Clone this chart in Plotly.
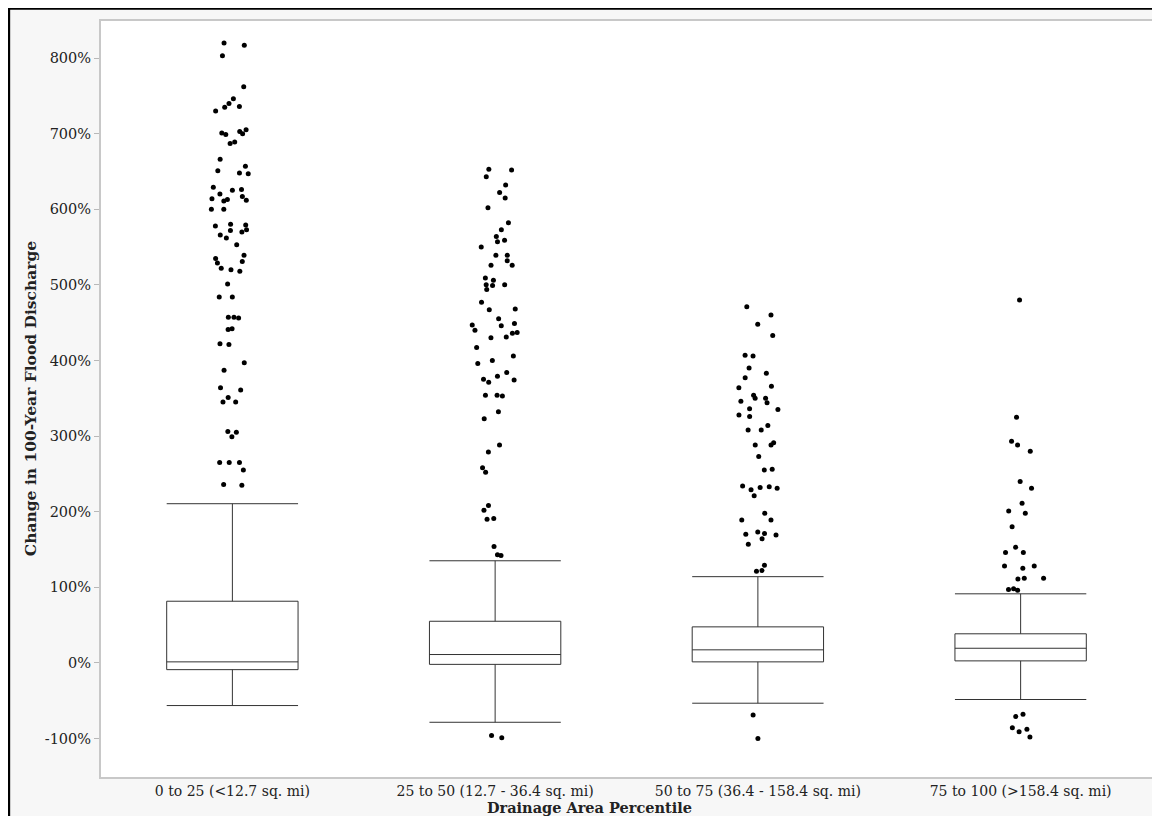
import plotly.graph_objects as go

categories = ["0 to 25 (<12.7 sq. mi)", "25 to 50 (12.7 - 36.4 sq. mi)",
              "50 to 75 (36.4 - 158.4 sq. mi)", "75 to 100 (>158.4 sq. mi)"]

lower_fence = [-56.5, -78.6, -53.4, -48.5]
q1_vals = [-9.0, -2.0, 1.3, 2.6]
median_vals = [1.3, 11.0, 17.2, 19.3]
q3_vals = [81.5, 55.0, 47.6, 38.4]
upper_fence = [210.5, 135.0, 114.0, 91.3]

g1_outliers = [820, 817, 803, 762, 746, 740, 736, 735, 730, 705, 703, 701, 700, 699,
               689, 687, 666, 657, 651, 648, 647, 629, 626, 625, 620, 617, 614, 613,
               612, 611, 600, 600, 580, 579, 578, 573, 572, 570, 566, 562, 553, 539,
               535, 531, 529, 522, 520, 518, 501, 484, 484, 457, 457, 456, 442, 441,
               422, 421, 397, 387, 364, 361, 351, 345, 345, 306, 305, 299, 265, 265,
               265, 255, 236, 235]
g2_outliers = [653, 652, 643, 632, 622, 615, 602, 582, 573, 564, 559, 557, 550, 539,
               539, 532, 526, 526, 509, 506, 500, 500, 499, 494, 477, 468, 467, 455,
               449, 447, 446, 440, 437, 436, 431, 430, 417, 406, 400, 396, 384, 379,
               375, 374, 371, 354, 354, 353, 332, 323, 288, 279, 258, 252, 208, 202,
               191, 190, 154, 143, 142, -96, -99]
g3_outliers = [471, 460, 448, 433, 407, 406, 390, 383, 377, 366, 364, 354, 350, 350,
               346, 344, 336, 335, 328, 326, 314, 308, 308, 291, 288, 288, 273, 256,
               255, 234, 233, 232, 231, 229, 221, 198, 189, 189, 173, 171, 170, 169,
               164, 157, 129, 122, 121, -69, -100]
g4_outliers = [480, 325, 293, 288, 280, 240, 231, 211, 201, 198, 180, 153, 146, 146,
               128, 128, 125, 112, 112, 111, 98, 97, 96, -68, -71, -86, -88, -91, -98]

y_tick_vals = [-100, 0, 100, 200, 300, 400, 500, 600, 700, 800]
y_tick_text = ["-100%", "0%", "100%", "200%", "300%", "400%", "500%", "600%", "700%", "800%"]

x_title = "Drainage Area Percentile"
y_title = "Change in 100-Year Flood Discharge"

outlier_groups = [g1_outliers, g2_outliers, g3_outliers, g4_outliers]
pts_x = []
pts_y = []
for cat, vals in zip(categories, outlier_groups):
    pts_x += [cat] * len(vals)
    pts_y += vals

fig = go.Figure()

fig.add_trace(go.Box(
    x=categories, q1=q1_vals, median=median_vals, q3=q3_vals,
    lowerfence=lower_fence, upperfence=upper_fence,
    boxpoints=False, width=0.5, whiskerwidth=1,
    fillcolor="white", line=dict(color="#333333", width=1),
    showlegend=False, hoverinfo="skip",
))

fig.add_trace(go.Box(
    x=pts_x, y=pts_y, boxpoints="all", jitter=0.4, pointpos=0, width=0.5,
    fillcolor="rgba(0,0,0,0)", line=dict(color="rgba(0,0,0,0)", width=0),
    marker=dict(color="black", size=5),
    showlegend=False,
))

# figure placed at page offset (8, 8) by the html body margin
W, H = 1152, 808
L, R, T, B = 93, 6, 13, 39
pw, ph = W - L - R, H - T - B

def px_x(p):
    return (p - L) / pw

def px_y(p):
    return (H - B - p) / ph

shapes = [
    dict(type="line", xref="paper", yref="paper", x0=px_x(0.5), x1=px_x(0.5),
         y0=px_y(H + 5), y1=px_y(-2), line=dict(color="black", width=3), layer="above"),
    dict(type="line", xref="paper", yref="paper", x0=px_x(-2), x1=px_x(W + 5),
         y0=px_y(0.5), y1=px_y(0.5), line=dict(color="black", width=2.5), layer="above"),
]

fig.update_layout(
    width=W, height=H,
    margin=dict(l=L, r=R, t=T, b=B, pad=0),
    paper_bgcolor="#f7f7f7", plot_bgcolor="white",
    boxmode="overlay", showlegend=False,
    font=dict(family="DejaVu Serif", size=14, color="#222222"),
    shapes=shapes,
    annotations=[
        dict(text="<b>" + y_title + "</b>", xref="paper", yref="paper",
             x=px_x(22), y=0.5, textangle=-90, showarrow=False,
             xanchor="center", yanchor="middle",
             font=dict(family="DejaVu Serif", size=15.5, color="#222222")),
        dict(text="<b>" + x_title + "</b>", xref="paper", yref="paper",
             x=px_x(582), y=px_y(799), showarrow=False,
             xanchor="center", yanchor="middle",
             font=dict(family="DejaVu Serif", size=14.5, color="#222222")),
    ],
)

fig.update_xaxes(
    type="category", categoryorder="array", categoryarray=categories,
    range=[-0.5, len(categories) - 0.5], autorange=False,
    showline=True, mirror=True, linecolor="#c8c8c8", linewidth=2,
    ticks="", showgrid=False, zeroline=False,
    tickfont=dict(family="DejaVu Serif", size=14, color="#222222"),
)
fig.update_yaxes(
    range=[-151, 849], tickvals=y_tick_vals, ticktext=y_tick_text,
    showline=True, mirror=True, linecolor="#c8c8c8", linewidth=2,
    ticks="outside", ticklen=5, tickcolor="#b8b8b8", tickwidth=1,
    showgrid=False, zeroline=False,
    tickfont=dict(family="DejaVu Serif", size=14.5, color="#222222"),
)

fig.write_html("out.html")
